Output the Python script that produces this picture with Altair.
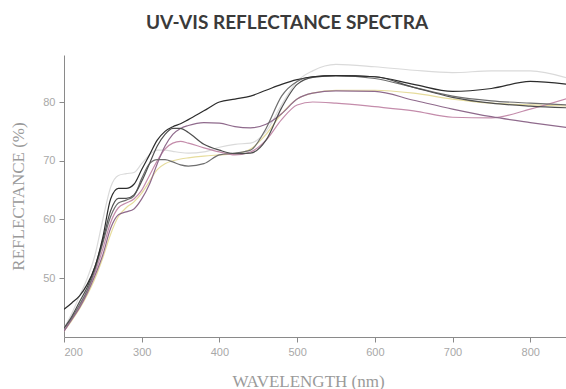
import altair as alt
import pandas as pd

wavelengths = [200, 210, 220, 230, 240, 250, 260, 270, 280, 290, 300, 310, 320, 330, 340, 350,
               360, 380, 400, 420, 440, 460, 480, 500, 520, 550, 600, 650, 700, 750, 800, 850]

series_names = ["light", "yellow", "pink", "mauve", "grey", "darkgrey", "black"]
series_colors = ["#dadada", "#e6dc9c", "#c48cab", "#8f6a8c", "#6e6e6e", "#4f4f4f", "#2c2c2c"]

light = [41.5, 44, 47, 50, 54, 60, 65.5, 67.5, 67.8, 68, 69.5, 71, 71.8, 71.8, 71.6, 71.4,
         71.3, 71.5, 72.3, 72.8, 73, 75, 79.5, 83.5, 85.3, 86.4, 86, 85.4, 85, 85.3, 85.3, 84]
yellow = [41, 42.8, 44.8, 47.2, 50, 53.5, 57.5, 60.5, 62, 63, 64.5, 66.5, 68.5, 69.5, 70, 70.3,
          70.5, 70.8, 71, 71.2, 72, 74.5, 78, 80.5, 81.5, 82, 82, 81.5, 80.5, 79.8, 79.5, 79.3]
pink = [41, 43, 45.2, 47.8, 51, 55, 59.5, 62, 62.8, 63.5, 65, 67.5, 70, 72, 73, 73.3,
        73, 72.2, 71.5, 71, 71.5, 73.5, 77, 79.5, 80, 79.8, 79.2, 78.5, 77.4, 77.3, 78.8, 80.7]
mauve = [41, 43, 45, 47.5, 50.5, 54, 58.5, 60.8, 61.3, 61.8, 63.5, 66, 69.5, 72.5, 74.5, 75.5,
         76, 76.5, 76.4, 75.8, 75.6, 76.2, 78, 80.5, 81.5, 81.9, 81.8, 80.3, 78.8, 77.5, 76.5, 75.6]
grey = [41.5, 43.3, 45.5, 48, 51.5, 56, 60.5, 62.8, 63.3, 64, 67, 69.5, 70.2, 70.2, 69.8, 69.3,
        69.1, 69.5, 71, 71.3, 71.8, 75.5, 81, 83.5, 84.3, 84.5, 84, 82.5, 81, 80.2, 79.8, 79.5]
darkgrey = [41.5, 43.5, 46, 48.5, 52, 56.5, 61.5, 63.6, 63.6, 64.2, 66.5, 69.5, 72.5, 74.5, 75.5, 75.5,
            74.8, 72.8, 71.8, 71.2, 71.3, 73.5, 79, 83, 84.2, 84.5, 84.3, 82.5, 80.8, 79.8, 79.3, 79]
black = [44.7, 45.8, 47, 49, 52, 57, 63.5, 65.3, 65.3, 66, 68.5, 71, 73.5, 75, 75.8, 76.3,
         77, 78.5, 80, 80.5, 81, 82, 83, 83.8, 84.3, 84.5, 84.3, 83, 81.8, 82.3, 83.5, 83]

values = [light, yellow, pink, mauve, grey, darkgrey, black]
rows = []
for name, vals in zip(series_names, values):
    for w, v in zip(wavelengths, vals):
        rows.append({"series": name, "wavelength": w, "reflectance": v})
df = pd.DataFrame(rows)

x_ticks = [200, 300, 400, 500, 600, 700, 800]
y_ticks = [50, 60, 70, 80]

chart = alt.Chart(df).mark_line(strokeWidth=1.2, interpolate="monotone", clip=True).encode(
    x=alt.X("wavelength:Q", scale=alt.Scale(domain=[200, 846], nice=False, zero=False),
            axis=alt.Axis(values=x_ticks, title="WAVELENGTH (nm)", titleX=244, titleY=44,
                          titleAlign="center", titleBaseline="middle")),
    y=alt.Y("reflectance:Q", scale=alt.Scale(domain=[40, 88], nice=False, zero=False),
            axis=alt.Axis(values=y_ticks, title="REFLECTANCE (%)", titleX=-46, titleY=141,
                          titleAngle=-90, titleAlign="center", titleBaseline="middle")),
    color=alt.Color("series:N", scale=alt.Scale(domain=series_names, range=series_colors), legend=None),
    order=alt.Order("series:N"),
).properties(
    width=502, height=282,
    autosize=alt.AutoSizeParams(type="none"),
    padding={"left": 64, "top": 55, "right": 0, "bottom": 52},
    title=alt.TitleParams("UV-VIS REFLECTANCE SPECTRA", fontSize=19, font="Lato", fontWeight="bold",
                          color="#3a3a3a", offset=22, dx=-28, anchor="middle"),
).configure_view(stroke=None).configure_axis(
    grid=False, domainColor="#8a8a8a", tickColor="#8a8a8a", tickSize=5, domainWidth=1,
    labelColor="#a8a8a8", labelFont="Liberation Sans", labelFontSize=11, labelPadding=4,
    titleFont="Liberation Serif", titleFontSize=17, titleFontWeight="normal", titleColor="#9a9a9a",
)

chart.save("out.html", embed_options={"renderer": "svg", "actions": False})
